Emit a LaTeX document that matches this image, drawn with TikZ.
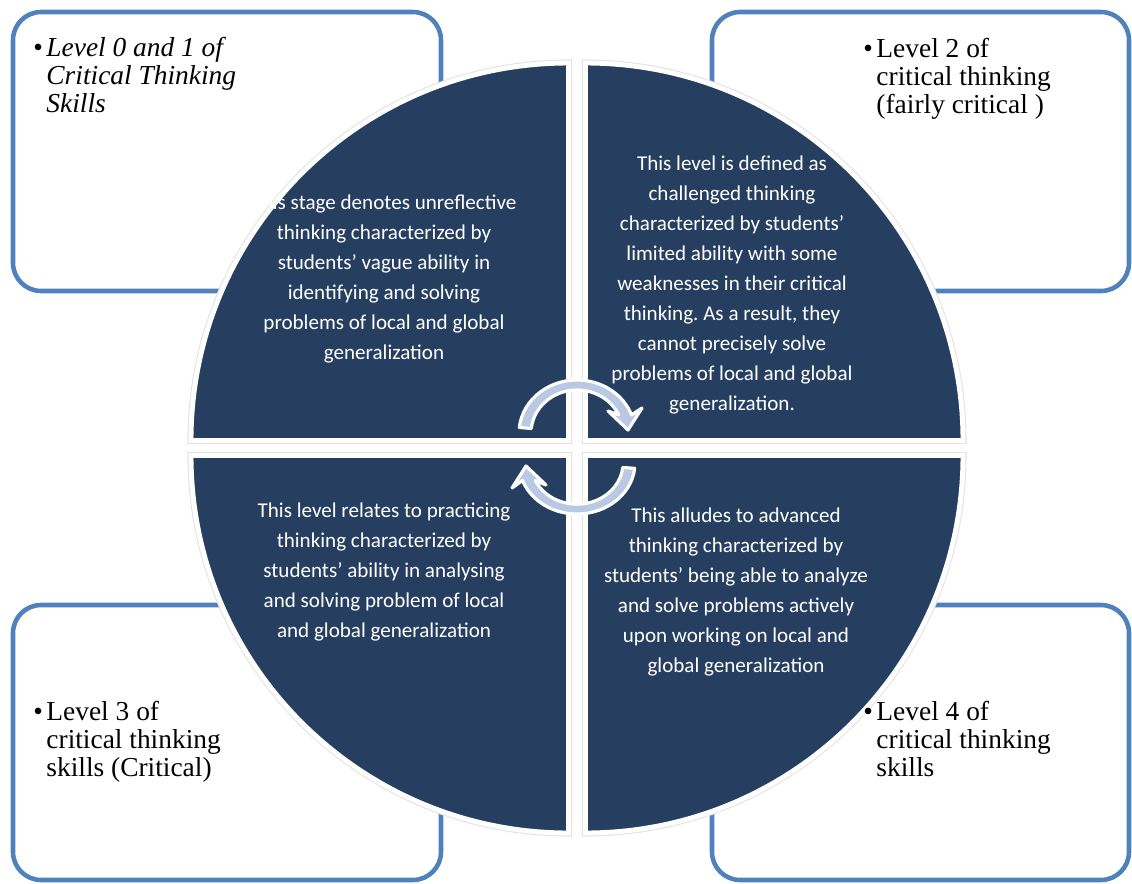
\documentclass[tikz,border=0pt]{standalone}
\usepackage{fontspec}
\setmainfont{Liberation Serif}
\newfontfamily\quadfont{Carlito}
\definecolor{quadnavy}{RGB}{38,63,96}
\definecolor{boxblue}{RGB}{79,129,189}
\definecolor{arrowfill}{RGB}{185,201,227}
\begin{document}
\frenchspacing
\begin{tikzpicture}[x=0.02cm,y=-0.02cm,
  levelbox/.style={draw=boxblue,line width=2.6pt,rounded corners=16pt},
  halo/.style={draw=black!11,line width=4pt},
  quadrant/.style={fill=quadnavy,draw=white,line width=2.8pt},
  quadtext/.style={text=white,align=center,inner sep=0,
    font=\quadfont\fontsize{12}{17.1}\selectfont},
  leveltext/.style={anchor=base west,inner sep=0,
    font=\fontsize{15.6}{16.2}\selectfont},
  cyclearrow/.style={fill=arrowfill,draw=white,line width=1.8pt,line join=round}]
\useasboundingbox (0,0) rectangle (1132,883);
% the four level boxes behind the circle
\draw [levelbox] (13,12) rectangle (441,291) ;
\draw [levelbox] (712,12) rectangle (1129,291) ;
\draw [levelbox] (13,605) rectangle (441,880) ;
\draw [levelbox] (712,605) rectangle (1129,880) ;
% quarter circles
\foreach \cx/\cy/\a in {568.5/440.5/180, 585.5/440.5/270, 568.5/455.5/90, 585.5/455.5/0} {
  \draw [halo] (\cx,\cy) -- ++(\a:377.5) arc [start angle=\a, end angle=\a+90, radius=377.5] -- cycle ;
  \draw [quadrant] (\cx,\cy) -- ++(\a:377.5) arc [start angle=\a, end angle=\a+90, radius=377.5] -- cycle ;
}
% circular arrows in the middle
\filldraw [cyclearrow] (577,433) ++(186:58 and 53) arc [start angle=186, end angle=340, x radius=58, y radius=53]
  -- (642,408) -- (628,430) -- (608,411) -- (618.7,414.8)
  arc [start angle=335, end angle=186, x radius=46, y radius=43] -- cycle ;
\filldraw [cyclearrow] (577,463) ++(6:58 and 51) arc [start angle=6, end angle=160, x radius=58, y radius=51]
  -- (512,488) -- (526,466) -- (546,485) -- (535.3,480.5)
  arc [start angle=155, end angle=6, x radius=46, y radius=41] -- cycle ;
% texts in the quarters
\node [quadtext] (stage01) at (384,279) {This stage denotes unreflective\\thinking characterized by\\students’ vague ability in\\identifying and solving\\problems of local and global\\generalization};
\node [quadtext] (stage2) at (732,285) {This level is defined as\\challenged thinking\\characterized by students’\\limited ability with some\\weaknesses in their critical\\thinking. As a result, they\\cannot precisely solve\\problems of local and global\\generalization.};
\node [quadtext] (stage3) at (384,572) {This level relates to practicing\\thinking characterized by\\students’ ability in analysing\\and solving problem of local\\and global generalization};
\node [quadtext] (stage4) at (736,592) {This alludes to advanced\\thinking characterized by\\students’ being able to analyze\\and solve problems actively\\upon working on local and\\global generalization};
% level labels
\node [leveltext] (level01) at (33,56) {\begin{tabular}[t]{@{}l@{\hspace{2pt}}l@{}}\textbullet & \textit{Level 0 and 1 of}\\ & \textit{Critical Thinking}\\ & \textit{Skills}\end{tabular}};
\node [leveltext] (level2) at (863,57) {\begin{tabular}[t]{@{}l@{\hspace{2pt}}l@{}}\textbullet & Level 2 of\\ & critical thinking\\ & (fairly critical )\end{tabular}};
\node [leveltext] (level3) at (33,720) {\begin{tabular}[t]{@{}l@{\hspace{2pt}}l@{}}\textbullet & Level 3 of\\ & critical thinking\\ & skills (Critical)\end{tabular}};
\node [leveltext] (level4) at (863,720) {\begin{tabular}[t]{@{}l@{\hspace{2pt}}l@{}}\textbullet & Level 4 of\\ & critical thinking\\ & skills\end{tabular}};
\end{tikzpicture}
\end{document}
